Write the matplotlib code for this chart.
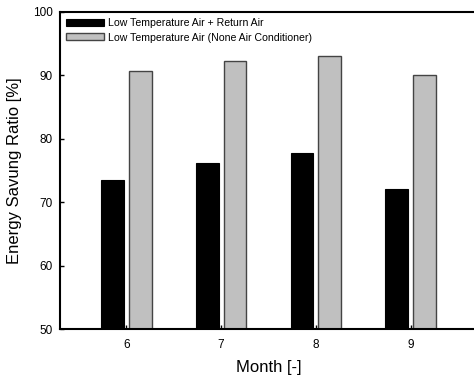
import numpy as np
import matplotlib
matplotlib.use("Agg")
import matplotlib.pyplot as plt

plt.rcParams['font.family'] = ['Liberation Sans', 'DejaVu Sans']

months = [6, 7, 8, 9]
return_air = [73.5, 76.2, 77.8, 72.1]
none_ac = [90.7, 92.3, 93.1, 90.1]
labels = ["Low Temperature Air + Return Air",
          "Low Temperature Air (None Air Conditioner)"]

fig = plt.figure(figsize=(4.74, 3.81), dpi=100)
ax = fig.add_axes([60/474, 1 - 329/381, 417/474, 317/381])

x = np.array(months)
w = 0.24
ax.bar(x - 0.147, return_air, w, color='black', edgecolor='black', linewidth=0.8, label=labels[0])
ax.bar(x + 0.147, none_ac, w, color='#c0c0c0', edgecolor='#444444', linewidth=1.0, label=labels[1])

ax.set_xlim(5.3, 9.7)
ax.set_ylim(50, 100)
ax.set_xticks(months)
ax.set_yticks([50, 60, 70, 80, 90, 100])
ax.tick_params(direction='in', length=3, width=1, labelsize=8.5)
ax.tick_params(axis='x', pad=7)
ax.tick_params(axis='y', pad=5)
for s in ['left', 'bottom', 'top']:
    ax.spines[s].set_linewidth(1.5)
ax.spines['right'].set_visible(False)

ax.set_xlabel("Month [-]", fontsize=12, labelpad=7)
ax.set_ylabel("Energy Savung Ratio [%]", fontsize=12, labelpad=8)

ax.legend(loc='upper left', frameon=False, fontsize=7.6, handlelength=3.6, handleheight=0.6,
          labelspacing=0.4, borderaxespad=0.2, handletextpad=0.35)

fig.savefig('out.png', dpi=100)
